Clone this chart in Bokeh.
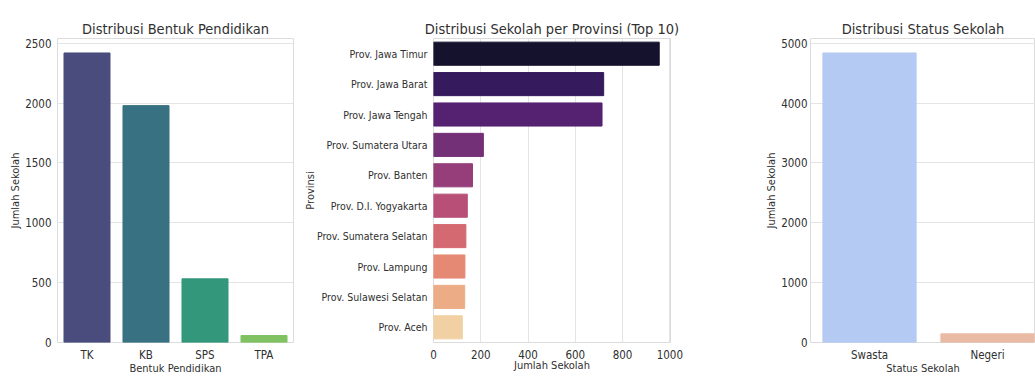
import colorsys
from bokeh.plotting import figure
from bokeh.layouts import row
from bokeh.models import (FactorRange, Range1d, SingleIntervalTicker, FixedTicker,
                          ColumnDataSource)
from bokeh.embed import file_html
from bokeh.resources import INLINE

# ---------------- data ----------------
bentuk = ["TK", "KB", "SPS", "TPA"]
jumlah_bentuk = [2419, 1979, 532, 58]

provinsi = ["Prov. Jawa Timur", "Prov. Jawa Barat", "Prov. Jawa Tengah",
            "Prov. Sumatera Utara", "Prov. Banten", "Prov. D.I. Yogyakarta",
            "Prov. Sumatera Selatan", "Prov. Lampung", "Prov. Sulawesi Selatan",
            "Prov. Aceh"]
jumlah_provinsi = [955, 720, 713, 211, 165, 143, 137, 133, 132, 122]

status = ["Swasta", "Negeri"]
jumlah_status = [4838, 145]

# ---------------- styles ----------------
viridis4 = ["#414487", "#2a788e", "#22a884", "#7ad151"]
magma10 = ["#120d32", "#331068", "#57157e", "#7e2482", "#a3307e",
           "#c83e73", "#e75763", "#f77d63", "#fda975", "#fed396"]
coolwarm2 = ["#aac7fd", "#f5b799"]


def desat(c, p=0.75):
    r, g, b = (int(c[i:i + 2], 16) / 255 for i in (1, 3, 5))
    h, l, s = colorsys.rgb_to_hls(r, g, b)
    r, g, b = colorsys.hls_to_rgb(h, l, s * p)
    return "#%02x%02x%02x" % (round(r * 255), round(g * 255), round(b * 255))


FONT = "'DejaVu Sans Condensed', 'DejaVu Sans'"
TXT = "#303030"
GRID = "#e4e4e4"
EDGE = "#dcdcdc"
H = 377
TOP = 38
BOTTOM = 35


def style(p, title, xlabel, ylabel):
    p.title.text = title
    p.title.align = "center"
    p.title.text_font = FONT
    p.title.text_font_size = "14.5px"
    p.title.text_font_style = "normal"
    p.title.text_color = TXT
    p.title.standoff = 3
    p.outline_line_color = EDGE
    p.outline_line_width = 1
    p.background_fill_color = "white"
    p.border_fill_color = "white"
    p.xaxis.axis_label = xlabel
    p.yaxis.axis_label = ylabel
    for ax in (p.xaxis[0], p.yaxis[0]):
        ax.major_tick_line_color = None
        ax.minor_tick_line_color = None
        ax.major_tick_out = 0
        ax.major_tick_in = 0
        ax.minor_tick_out = 0
        ax.minor_tick_in = 0
        ax.axis_line_color = None
        ax.major_label_text_font = FONT
        ax.major_label_text_font_size = "11.5px"
        ax.major_label_text_color = TXT
        ax.major_label_standoff = 6
        ax.axis_label_text_font = FONT
        ax.axis_label_text_font_size = "11px"
        ax.axis_label_text_font_style = "normal"
        ax.axis_label_text_color = TXT
        ax.axis_label_standoff = 0
    p.xaxis.major_label_standoff = 5
    p.xaxis.axis_label_standoff = -3


# ---------------- panel 1 ----------------
src1 = ColumnDataSource(dict(x=bentuk, y=jumlah_bentuk,
                             c=[desat(c) for c in viridis4]))
p1 = figure(width=300, height=H,
            x_range=FactorRange(*bentuk, range_padding=0),
            y_range=Range1d(0, max(jumlah_bentuk) * 1.05),
            output_backend="svg", toolbar_location=None,
            min_border_left=57, min_border_right=7,
            min_border_top=TOP, min_border_bottom=BOTTOM)
p1.vbar(x="x", top="y", width=0.78, fill_color="c", line_color="c", source=src1)
style(p1, "Distribusi Bentuk Pendidikan", "Bentuk Pendidikan", "Jumlah Sekolah")
p1.yaxis.ticker = SingleIntervalTicker(interval=500)
p1.xgrid.grid_line_color = None
p1.ygrid.grid_line_color = GRID

# ---------------- panel 2 ----------------
src2 = ColumnDataSource(dict(y=provinsi, x=jumlah_provinsi,
                             c=[desat(c) for c in magma10]))
p2 = figure(width=400, height=H,
            y_range=FactorRange(*list(reversed(provinsi)), range_padding=0),
            x_range=Range1d(0, max(jumlah_provinsi) * 1.05),
            output_backend="svg", toolbar_location=None,
            min_border_left=133, min_border_right=30,
            min_border_top=TOP, min_border_bottom=BOTTOM)
p2.hbar(y="y", right="x", height=0.76, fill_color="c", line_color="c", source=src2)
style(p2, "Distribusi Sekolah per Provinsi (Top 10)", "Jumlah Sekolah", "Provinsi")
p2.xaxis.ticker = SingleIntervalTicker(interval=200)
p2.xaxis.major_label_standoff = 7
p2.ygrid.grid_line_color = None
p2.xgrid.grid_line_color = GRID
p2.yaxis.major_label_text_font_size = "10.5px"
p2.yaxis.axis_label_standoff = -3

# ---------------- panel 3 ----------------
FW3 = 225
pos = list(range(len(status)))
src3 = ColumnDataSource(dict(x=pos, y=jumlah_status,
                             c=[desat(c) for c in coolwarm2]))
p3 = figure(width=335, height=H,
            x_range=Range1d(-0.5, -0.5 + FW3 / 118),
            y_range=Range1d(0, max(jumlah_status) * 1.05),
            output_backend="svg", toolbar_location=None,
            min_border_left=110, min_border_right=0,
            min_border_top=TOP, min_border_bottom=BOTTOM)
p3.vbar(x="x", top="y", width=0.79, fill_color="c", line_color="c", source=src3)
style(p3, "Distribusi Status Sekolah", "Status Sekolah", "Jumlah Sekolah")
p3.xaxis.ticker = FixedTicker(ticks=pos)
p3.xaxis.major_label_overrides = {i: s for i, s in zip(pos, status)}
p3.yaxis.ticker = SingleIntervalTicker(interval=1000)
p3.xgrid.grid_line_color = None
p3.ygrid.grid_line_color = GRID
p3.yaxis.major_label_standoff = 3

layout = row(p1, p2, p3, spacing=0)
open("out.html", "w").write(file_html(layout, INLINE))
